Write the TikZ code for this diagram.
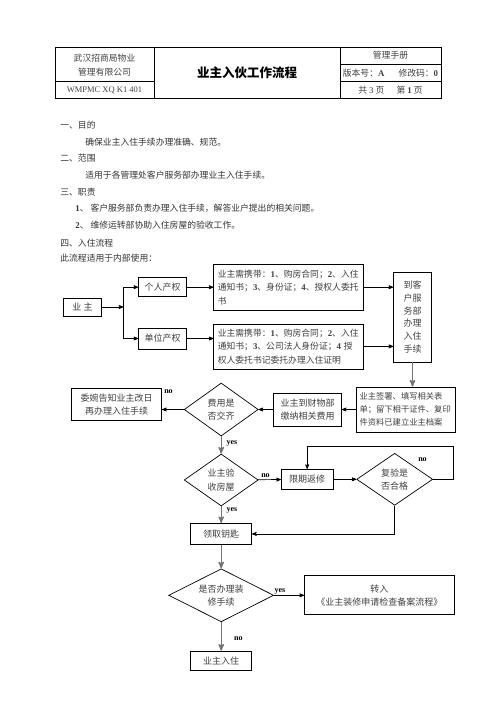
\documentclass[tikz,border=0pt]{standalone}
\usepackage{fontspec}
\setmainfont{Noto Sans CJK SC}
\newfontfamily\latin{Liberation Serif}
\usetikzlibrary{positioning,calc,arrows,shapes.geometric}

\begin{document}
\begin{tikzpicture}[x=1pt,y=-1pt,>=stealth',line width=0.7pt,
    main node/.style={draw,inner sep=0pt,align=center,text=black!75,
      font=\fontsize{9}{13}\selectfont},
    need node/.style={main node,minimum width=150pt,text width=142pt,align=left,
      font=\fontsize{8.8}{13.5}\selectfont},
    choice node/.style={diamond,draw,shape aspect=1.5,inner sep=0pt,
      align=center,text=black!75,font=\fontsize{9}{13.3}\selectfont},
    text node/.style={anchor=west,inner sep=0pt,text=black!80,
      font=\fontsize{8.8}{11}\selectfont},
    head node/.style={inner sep=0pt,align=center,text=black!75,
      font=\fontsize{8.8}{13.4}\selectfont},
    tag node/.style={inner sep=0pt,font=\latin\bfseries\fontsize{8}{9}\selectfont},
    down line/.style={->,line width=1.3pt,black!55}]
  \path[use as bounding box,fill=white] (0,0) rectangle (496,702);
  % header
  \draw (55,47) rectangle (441,98);
  \draw (154,47) -- (154,98) (340,47) -- (340,98) (55,81.5) -- (154,81.5)
    (340,64) -- (441,64) (340,81.5) -- (441,81.5);
  \node[head node] (h0) at (104.5,65) {武汉招商局物业\\管理有限公司};
  \node[head node,font=\latin\fontsize{8.5}{10}\selectfont] (h1) at (104.5,90) {WMPMC XQ K1 401};
  \node[head node,text=black,font=\fontsize{12.5}{15}\selectfont\bfseries] (h2) at (247,72.5) {业主入伙工作流程};
  \node[head node] (h3) at (390.5,55.5) {管理手册};
  \node[head node] (h4) at (390.5,72.8) {版本号：{\latin\bfseries A}\hspace{1.6em}修改码：{\latin\bfseries 0}};
  \node[head node] (h5) at (390.5,89.8) {共 {\latin 3} 页\hspace{1.4em}第 {\latin\bfseries 1} 页};
  % text
  \node[text node] (t0) at (60,125) {一、目的};
  \node[text node] (t1) at (85,141.7) {确保业主入住手续办理准确、规范。};
  \node[text node] (t2) at (60,158.3) {二、范围};
  \node[text node] (t3) at (85,175) {适用于各管理处客户服务部办理业主入住手续。};
  \node[text node] (t4) at (60,191.7) {三、职责};
  \node[text node] (t5) at (75,208.3) {{\latin\bfseries 1}、\ 客户服务部负责办理入住手续，解答业户提出的相关问题。};
  \node[text node] (t6) at (75,225) {{\latin\bfseries 2}、\ 维修运转部协助入住房屋的验收工作。};
  \node[text node] (t7) at (60,243.3) {四、入住流程};
  \node[text node] (t8) at (60,258.3) {此流程适用于内部使用：};
  % nodes
  \node[main node,minimum width=38pt,minimum height=18pt] (0) at (82.5,307) {业\ 主};
  \node[main node,minimum width=48pt,minimum height=19pt] (1) at (162.5,287.2) {个人产权};
  \node[main node,minimum width=48pt,minimum height=21pt] (2) [below = 30.6pt of 1] {单位产权};
  \node[need node,minimum height=46pt] (3) [right = 26.6pt of 1] {业主需携带：{\latin\bfseries 1}、购房合同；{\latin\bfseries 2}、入住\\通知书；{\latin\bfseries 3}、身份证；{\latin\bfseries 4}、授权人委托\\书};
  \node[need node,minimum height=45pt] (4) [below = 13pt of 3] {业主需携带：{\latin\bfseries 1}、购房合同；{\latin\bfseries 2}、入住\\通知书；{\latin\bfseries 3}、公司法人身份证；{\latin\bfseries 4} 授\\权人委托书记委托办理入住证明};
  \node[main node,minimum width=38pt,minimum height=90pt,font=\fontsize{9}{12.9}\selectfont] (5) at (412.5,317) {到客\\户服\\务部\\办理\\入住\\手续};
  \node[main node,minimum width=99pt,minimum height=45pt,text width=92pt,align=left,
    font=\fontsize{8.3}{12.9}\selectfont] (6) at (405.5,409.5) {业主签署、填写相关表\\单；留下相干证件、复印\\件资料已建立业主档案};
  \node[choice node,minimum width=74pt,minimum height=53pt] (7) at (221.2,409.5) {费用是\\否交齐};
  \node[main node,minimum width=90pt,minimum height=32pt] (8) at (116.7,404.2) {委婉告知业主改日\\再办理入住手续};
  \node[main node,minimum width=68pt,minimum height=33pt] (9) at (307.5,409.5) {业主到财物部\\缴纳相关费用};
  \node[choice node,minimum width=74pt,minimum height=52pt] (10) [below = 17.3pt of 7] {业主验\\收房屋};
  \node[main node,minimum width=52pt,minimum height=20pt] (11) at (307.2,479.3) {限期返修};
  \node[choice node,minimum width=76pt,minimum height=52pt] (12) [right = 22.8pt of 11] {复验是\\否合格};
  \node[main node,minimum width=61pt,minimum height=21pt] (13) [below = 16.7pt of 10] {领取钥匙};
  \node[choice node,minimum width=105pt,minimum height=53pt] (14) [below = 23.7pt of 13] {是否办理装\\修手续};
  \node[main node,minimum width=150pt,minimum height=39pt] (15) [right = 30pt of 14] {转入\\《业主装修申请检查备案流程》};
  \node[main node,minimum width=61pt,minimum height=19.5pt] (16) [below = 28.6pt of 14] {业主入住};
  % tags
  \node[tag node] (n0) at (168.5,391.7) {no};
  \node[tag node] (n1) at (232,443.3) {yes};
  \node[tag node] (n2) at (265.5,475.5) {no};
  \node[tag node] (n3) at (422.5,460) {no};
  \node[tag node] (n4) at (232,510) {yes};
  \node[tag node] (n5) at (280,591) {yes};
  \node[tag node] (n6) at (238.3,638.3) {no};
  %edges
  \coordinate (a) at (123.3,307);
  \coordinate (b) at (453,446);
  \draw[->] (0) -- (a);
  \draw (a |- 1) -- (a |- 2);
  \draw[->] (a |- 1) -- (1);
  \draw[->] (a |- 2) -- (2);
  \draw[->] (1) -- (3);
  \draw[->] (2) -- (2 -| 4.west);
  \draw[->] (3) -- (3 -| 5.west);
  \draw[->] (4.east) -- (4.east -| 5.west);
  \draw[down line] (5.south) -- (5.south |- 6.north);
  \draw[->] (6) -- (9);
  \draw[->] (9) -- (7);
  \draw[->] (7) -- (7 -| 8.east);
  \draw[down line] (7) -- (10);
  \draw[->] (10) -- (11);
  \draw[->] (11) -- (12);
  \draw[->] (12.east) -| (b) -| (11.north);
  \draw[->] (12.south) |- (13);
  \draw[down line] (10) -- (13);
  \draw[down line] (13) -- (14);
  \draw[->] (14) -- (14 -| 15.west);
  \draw[down line] (14) -- (16);
\end{tikzpicture}
\end{document}
